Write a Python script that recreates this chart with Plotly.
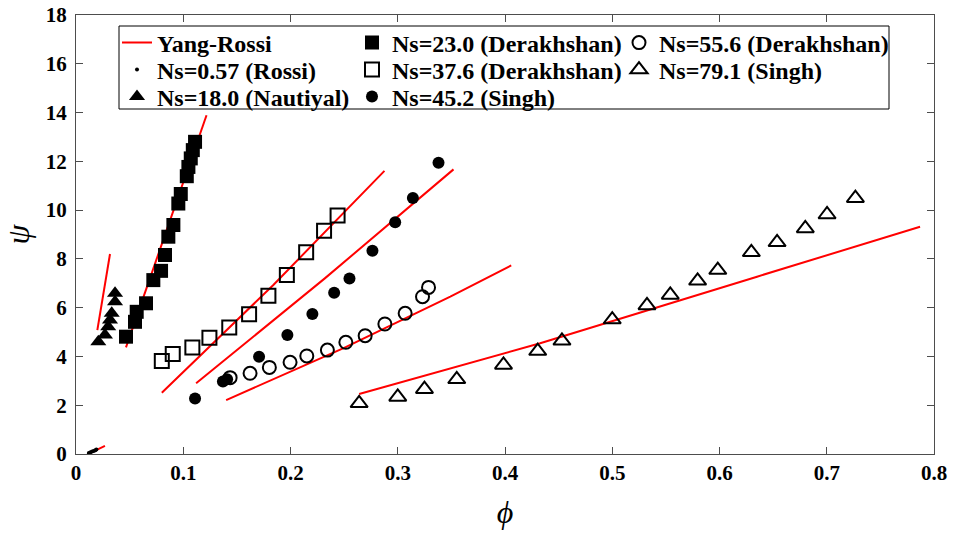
import plotly.graph_objects as go

# ---------------- data ----------------
# Yang-Rossi model curves (one per data set)
yr_rossi_x = [0.016, 0.027]
yr_rossi_y = [0.10, 0.33]
yr_naut_x = [0.0199, 0.0317]
yr_naut_y = [5.08, 8.20]
yr_d23_x = [0.0466, 0.084, 0.1217]
yr_d23_y = [4.37, 9.10, 13.89]
yr_d376_x = [0.080, 0.184, 0.2876]
yr_d376_y = [2.51, 6.93, 11.61]
yr_s452_x = [0.112, 0.232, 0.352]
yr_s452_y = [2.90, 7.20, 11.67]
yr_d556_x = [0.140, 0.250, 0.349, 0.4058]
yr_d556_y = [2.21, 4.35, 6.45, 7.73]
yr_s791_x = [0.264, 0.4328, 0.635, 0.787]
yr_s791_y = [2.46, 4.54, 7.27, 9.32]

# Ns=0.57 (Rossi)
rossi_x = [0.012, 0.0135, 0.015, 0.0165, 0.018, 0.019]
rossi_y = [0.04, 0.07, 0.10, 0.12, 0.15, 0.18]

# Ns=18.0 (Nautiyal)
naut_x = [0.0208, 0.027, 0.030, 0.0317, 0.0333, 0.0364, 0.0364]
naut_y = [4.60, 4.88, 5.22, 5.49, 5.77, 6.24, 6.59]

# Ns=23.0 (Derakhshan)
d23_x = [0.0466, 0.055, 0.0566, 0.0653, 0.0721, 0.0793, 0.083, 0.0861,
         0.0908, 0.0954, 0.0977, 0.1033, 0.1048, 0.107, 0.1089, 0.111]
d23_y = [4.81, 5.42, 5.83, 6.18, 7.13, 7.51, 8.16, 8.91,
         9.39, 10.27, 10.66, 11.39, 11.77, 12.12, 12.46, 12.80]

# Ns=37.6 (Derakhshan)
d376_x = [0.080, 0.0902, 0.1085, 0.1244, 0.1429, 0.1614, 0.1794, 0.1966,
          0.2146, 0.2313, 0.2439]
d376_y = [3.81, 4.10, 4.37, 4.77, 5.19, 5.73, 6.49, 7.34, 8.27, 9.15, 9.78]

# Ns=45.2 (Singh)
s452_x = [0.111, 0.137, 0.1409, 0.1707, 0.1971, 0.2204, 0.2407, 0.255,
          0.2764, 0.2976, 0.3141, 0.338]
s452_y = [2.28, 2.97, 3.07, 3.99, 4.88, 5.74, 6.61, 7.20, 8.33, 9.50, 10.50, 11.94]

# Ns=55.6 (Derakhshan)
d556_x = [0.1437, 0.1623, 0.1803, 0.1996, 0.2152, 0.2344, 0.2516, 0.2696,
          0.288, 0.3069, 0.3231, 0.3287]
d556_y = [3.13, 3.31, 3.55, 3.76, 4.02, 4.26, 4.58, 4.85, 5.33, 5.77, 6.45, 6.83]

# Ns=79.1 (Singh)
s791_x = [0.264, 0.300, 0.3249, 0.355, 0.3986, 0.4305, 0.4531, 0.500, 0.5324,
          0.5541, 0.5796, 0.5984, 0.6297, 0.6537, 0.680, 0.7003, 0.7267]
s791_y = [2.08, 2.34, 2.66, 3.06, 3.65, 4.22, 4.64, 5.51, 6.09, 6.52, 7.10,
          7.54, 8.27, 8.68, 9.25, 9.82, 10.49]

x_ticks = [0, 0.1, 0.2, 0.3, 0.4, 0.5, 0.6, 0.7, 0.8]
x_tick_text = ["0", "0.1", "0.2", "0.3", "0.4", "0.5", "0.6", "0.7", "0.8"]
y_ticks = [0, 2, 4, 6, 8, 10, 12, 14, 16, 18]

# ---------------- figure ----------------
SERIF = "Liberation Serif"
RED = "#ff0000"
W, H = 955, 533
L, R, T, B = 76, 21, 15, 79
PW, PH = W - L - R, H - T - B

def px2paper(px, py):
    return (px - L) / PW, (H - B - py) / PH

fig = go.Figure()

yr_curves = [(yr_rossi_x, yr_rossi_y), (yr_naut_x, yr_naut_y), (yr_d23_x, yr_d23_y),
             (yr_d376_x, yr_d376_y), (yr_s452_x, yr_s452_y), (yr_d556_x, yr_d556_y),
             (yr_s791_x, yr_s791_y)]
for i, (cx, cy) in enumerate(yr_curves):
    fig.add_trace(go.Scatter(
        x=cx, y=cy, mode="lines", line=dict(color=RED, width=2),
        name="Yang-Rossi", legendgroup="yr", showlegend=(i == 0), legend="legend"))

series = [
    ("Ns=0.57 (Rossi)", rossi_x, rossi_y, dict(symbol="circle", size=4, color="black"), "legend2"),
    ("Ns=18.0 (Nautiyal)", naut_x, naut_y, dict(symbol="triangle-up", size=14, color="black"), "legend3"),
    ("Ns=23.0 (Derakhshan)", d23_x, d23_y, dict(symbol="square", size=14, color="black"), "legend4"),
    ("Ns=37.6 (Derakhshan)", d376_x, d376_y,
     dict(symbol="square-open", size=14, color="black", line=dict(width=2)), "legend5"),
    ("Ns=45.2 (Singh)", s452_x, s452_y, dict(symbol="circle", size=12, color="black"), "legend6"),
    ("Ns=55.6 (Derakhshan)", d556_x, d556_y,
     dict(symbol="circle-open", size=13, color="black", line=dict(width=2)), "legend7"),
    ("Ns=79.1 (Singh)", s791_x, s791_y,
     dict(symbol="triangle-up-open", size=15, color="black", line=dict(width=2)), "legend8"),
]
for name, sx, sy, mk, lg in series:
    fig.add_trace(go.Scatter(x=sx, y=sy, mode="markers", marker=mk, name=name, legend=lg))

# legend placement (each entry is its own legend so rows/columns match the reference)
legend_font = dict(family=SERIF, size=24, color="black", weight="bold")
entries = {
    "legend": (117, 43), "legend2": (117, 70), "legend3": (117, 97),
    "legend4": (352, 43), "legend5": (352, 70), "legend6": (352, 97),
    "legend7": (619, 43), "legend8": (619, 70),
}
legend_layout = {}
for key, (lx, ly) in entries.items():
    xp, yp = px2paper(lx, ly)
    legend_layout[key] = dict(x=xp, y=yp, xanchor="left", yanchor="middle",
                              bgcolor="rgba(0,0,0,0)", borderwidth=0, font=legend_font)

x0, y0 = px2paper(119, 109)
x1, y1 = px2paper(889, 26)

axis_common = dict(
    showline=True, linecolor="#4d4d4d", linewidth=1, mirror="ticks",
    ticks="inside", ticklen=7, tickcolor="#4d4d4d", showgrid=False, zeroline=False,
    automargin=False,
    tickfont=dict(family=SERIF, size=21, color="black", weight="bold"),
)

fig.update_layout(
    template="none",
    font=dict(family=SERIF, color="black"),
    width=W, height=H,
    margin=dict(l=L, r=R, t=T, b=B),
    paper_bgcolor="white", plot_bgcolor="white",
    xaxis=dict(range=[0, 0.8], tickvals=x_ticks, ticktext=x_tick_text,
               title=dict(text="<i>ϕ</i>", font=dict(family=SERIF, size=32, color="black"),
                          standoff=16),
               **axis_common),
    yaxis=dict(range=[0, 18], tickvals=y_ticks, ticklabelstandoff=4,
               title=dict(text="<i>ψ</i>", font=dict(family=SERIF, size=32, color="black"),
                          standoff=14),
               **axis_common),
    shapes=[dict(type="rect", xref="paper", yref="paper", x0=x0, y0=y0, x1=x1, y1=y1,
                 line=dict(color="black", width=1), fillcolor="white", layer="above")],
    **legend_layout,
)

fig.write_html("out.html", config={"displayModeBar": False},
               post_script="document.body.style.margin='0';")
